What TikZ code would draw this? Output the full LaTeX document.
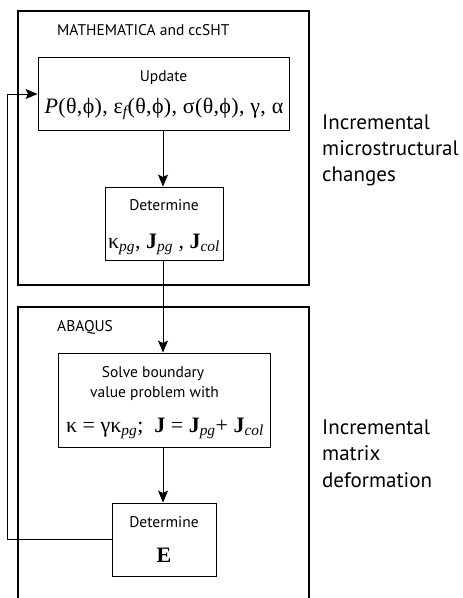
\documentclass[tikz,border=0pt]{standalone}
\usepackage{fontspec}
\setmainfont{PT Sans}
\newfontfamily\ser{Liberation Serif}
\usetikzlibrary{arrows.meta}
\newcommand\lsub[1]{\textsubscript{\itshape #1}}
\begin{document}
\begin{tikzpicture}[x=1pt,y=-1pt,
  outer/.style={draw, line width=2.2pt},
  box/.style={draw, line width=0.9pt, fill=white, inner sep=0pt},
  conn/.style={line width=0.9pt, -{Stealth[length=12pt,width=10pt,inset=2.5pt]}},
  lab/.style={font=\fontsize{15.5}{17}\selectfont, inner sep=0pt, anchor=base},
  frm/.style={font=\ser\fontsize{22}{24}\selectfont, inner sep=0pt, anchor=base},
  side/.style={font=\fontsize{21}{26}\selectfont, inner sep=0pt, anchor=base west}]
\useasboundingbox (0,0) rectangle (463,598);
% outer frames
\draw[outer] (18,11) rectangle (309,285);
\draw[outer] (18,602) -- (18,307) -- (309,307) -- (309,602);
% boxes
\node[box, minimum width=251pt, minimum height=73pt] (upd) at (163.5,93.5) {};
\node[box, minimum width=118pt, minimum height=73pt] (det1) at (164,223.5) {};
\node[box, minimum width=212pt, minimum height=94pt] (solve) at (164,400) {};
\node[box, minimum width=104pt, minimum height=73pt] (det2) at (164,539.5) {};
% frame titles
\node[lab, anchor=base west] (tmath) at (57,35) {MATHEMATICA and ccSHT};
\node[lab, anchor=base west] (tabq) at (57,331) {ABAQUS};
% box texts
\node[lab] (tupd) at (163.5,81) {Update};
\node[frm] (fupd) at (164,113) {\addfontfeature{LetterSpace=1.5}\textit{P}(θ,ϕ), ε\lsub{f}(θ,ϕ), σ(θ,ϕ), γ, α};
\node[lab] (tdet1) at (164,210) {Determine};
\node[frm] (fdet1) at (164,248) {κ\lsub{pg}, \textbf{J}\lsub{pg} , \textbf{J}\lsub{col}};
\node[lab] (tsol1) at (153,377) {Solve boundary};
\node[lab] (tsol2) at (154.5,397) {value problem with};
\node[frm] (fsol) at (165,432) {κ = γκ\lsub{pg};\ \ \textbf{J} = \textbf{J}\lsub{pg}+ \textbf{J}\lsub{col}};
\node[lab] (tdet2) at (164,527) {Determine};
\node[frm] (fdet2) at (164,562) {\textbf{E}};
% side texts
\node[side] (s1) at (322,129) {Incremental};
\node[side] (s2) at (322,155) {microstructural};
\node[side] (s3) at (322,181) {changes};
\node[side] (s4) at (322,434) {Incremental};
\node[side] (s5) at (322,460.5) {matrix};
\node[side] (s6) at (322,487) {deformation};
% connectors
\draw[conn] (upd.south -| 163,0) -- (det1.north -| 163,0);
\draw[conn] (det1.south -| 163,0) -- (solve.north -| 163,0);
\draw[conn] (solve.south -| 163,0) -- (det2.north -| 163,0);
\coordinate (fb1) at (7,539);
\coordinate (fb2) at (7,94);
\draw[conn] (det2.west |- fb1) -- (fb1) -- (fb2) -- (upd.west |- fb2);
\end{tikzpicture}
\end{document}
